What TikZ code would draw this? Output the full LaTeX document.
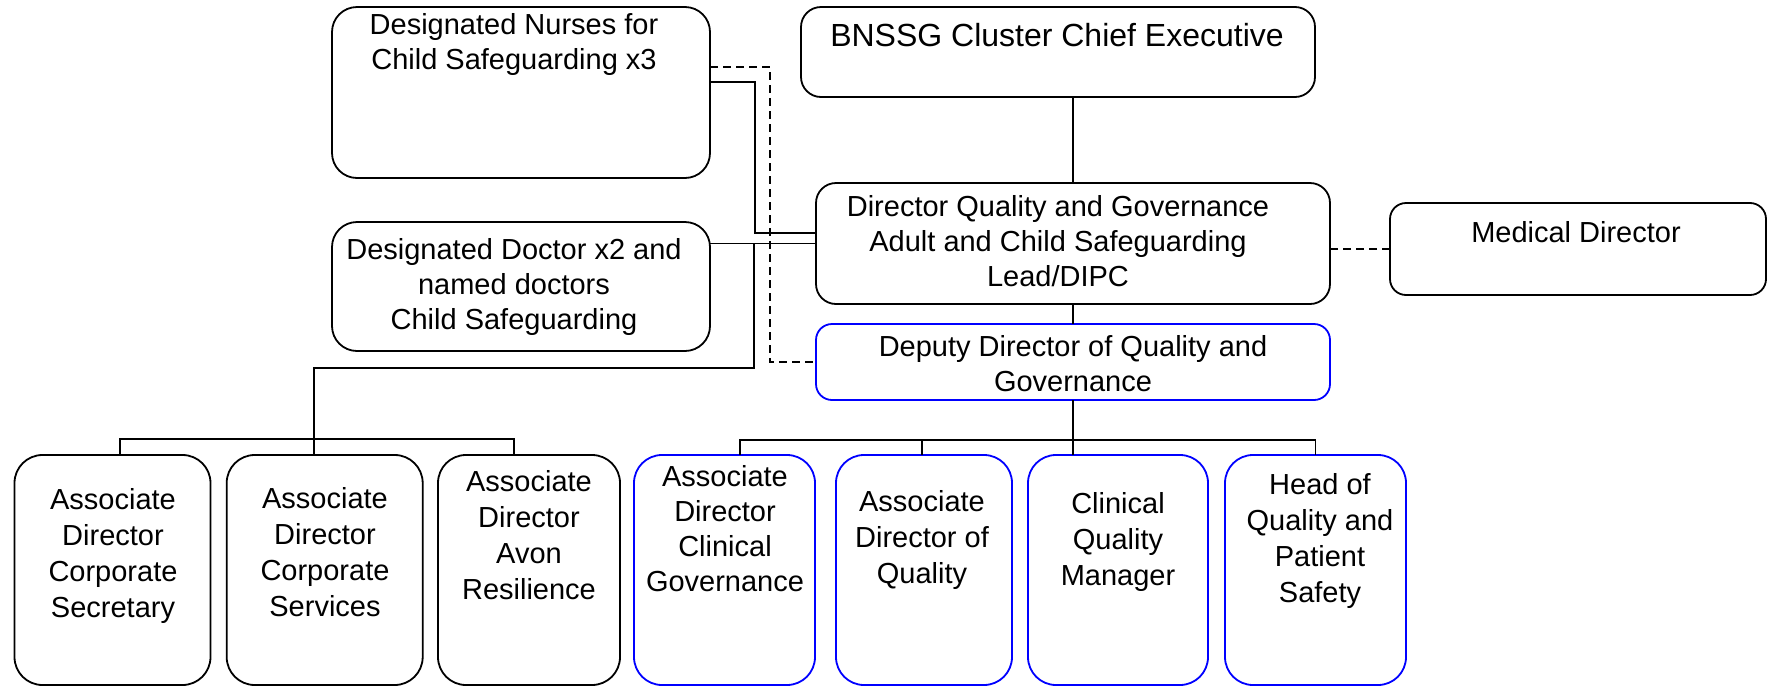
\documentclass[tikz,border=0pt]{standalone}
\usepackage{fontspec}
\setmainfont{Liberation Sans}
\usepackage{tikz}
\usetikzlibrary{positioning}

\tikzset{
    box/.style={draw, rounded corners=#1, line width=1.8pt, inner sep=0pt, outer sep=0pt},
    box/.default=20pt,
    qbox/.style={box=#1, draw=blue},
    qbox/.default=28pt,
    txt/.style={anchor=north, inner sep=0pt, align=center, font=\fontsize{29}{35}\selectfont},
    ltxt/.style={txt, font=\fontsize{29}{36}\selectfont},
    link/.style={line width=1.8pt},
    dlink/.style={link, dash pattern=on 8pt off 5pt}
}

\begin{document}
\begin{tikzpicture}[x=1pt,y=-1pt]
    \useasboundingbox (0,0) rectangle (1767,686);
    % top row
    \node[box=25pt, minimum width=378pt, minimum height=171pt] (nur) at (521,92.5) {};
    \node[box, minimum width=514pt, minimum height=90pt] (ceo) at (1058,52) {};
    \node[box, minimum width=514pt, minimum height=121pt] (dir) at (1073,243.5) {};
    \node[box=16pt, minimum width=376pt, minimum height=92pt] (med) at (1578,249) {};
    \node[box=25pt, minimum width=378pt, minimum height=129pt] (doc) at (521,286.5) {};
    \node[qbox=16pt, minimum width=514pt, minimum height=76pt] (dep) at (1073,362) {};
    % bottom row
    \node[box=28pt, minimum width=196pt, minimum height=230pt] (ad1) at (112.5,570) {};
    \node[box=28pt, minimum width=196pt, minimum height=230pt] (ad2) at (324.7,570) {};
    \node[box=28pt, minimum width=182pt, minimum height=230pt] (ad3) at (529,570) {};
    \node[qbox, minimum width=181pt, minimum height=230pt] (q1) at (724.5,570) {};
    \node[qbox, minimum width=176pt, minimum height=230pt] (q2) at (924,570) {};
    \node[qbox, minimum width=180pt, minimum height=230pt] (q3) at (1118,570) {};
    \node[qbox, minimum width=181pt, minimum height=230pt] (q4) at (1315.5,570) {};

    \node[txt] (nur-t) at (514,13) {Designated Nurses for\\Child Safeguarding x3};
    \node[txt, font=\fontsize{32}{35}\selectfont] (ceo-t) at (1057,23) {BNSSG Cluster Chief Executive};
    \node[txt] (dir-t) at (1058,195) {Director Quality and Governance\\Adult and Child Safeguarding\\Lead/DIPC};
    \node[txt] (med-t) at (1576,221) {Medical Director};
    \node[txt] (doc-t) at (514,238) {Designated Doctor x2 and\\named doctors\\Child Safeguarding};
    \node[txt] (dep-t) at (1073,335) {Deputy Director of Quality and\\Governance};
    \node[ltxt] (ad1-t) at (113,488) {Associate\\Director\\Corporate\\Secretary};
    \node[ltxt] (ad2-t) at (325,487) {Associate\\Director\\Corporate\\Services};
    \node[ltxt] (ad3-t) at (529,470) {Associate\\Director\\Avon\\Resilience};
    \node[txt] (q1-t) at (725,465) {Associate\\Director\\Clinical\\Governance};
    \node[ltxt] (q2-t) at (922,490) {Associate\\Director of\\Quality};
    \node[ltxt] (q3-t) at (1118,492) {Clinical\\Quality\\Manager};
    \node[ltxt] (q4-t) at (1320,473) {Head of\\Quality and\\Patient\\Safety};

    \coordinate (lhub) at (314,368);
    \coordinate (lbus) at (314,439);
    \coordinate (rbus) at (1073,440);

    \draw[link] (dir.north) -- (dir.north |- ceo.south);
    \draw[link] (dir.south) -- (dep.north);
    \draw[dlink] (med.west) -- (med.west -| dir.east);
    \draw[link] ([yshift=10.5pt]nur.east) -| ([xshift=-61pt,yshift=10.5pt]dir.west) -- ([yshift=10.5pt]dir.west);
    \draw[dlink] ([yshift=25.5pt]nur.east) -| ([xshift=-46pt]dep.west) -- (dep.west);
    \draw[link] (dir.west) -- (dir.west -| doc.east);
    \draw[link] ([xshift=-62pt]dir.west) |- (lhub) -- (lhub |- ad2.north);
    \draw[link] ([xshift=7.5pt]ad1.north) |- (lbus) -| ([xshift=-15pt]ad3.north);
    \draw[link] (dep.south) -- ([xshift=-45pt]q3.north);
    \draw[link] ([xshift=15.5pt]q1.north) |- (rbus) -| (q4.north);
    \draw[link] ([xshift=-2pt]q2.north) |- (rbus);
\end{tikzpicture}
\end{document}
